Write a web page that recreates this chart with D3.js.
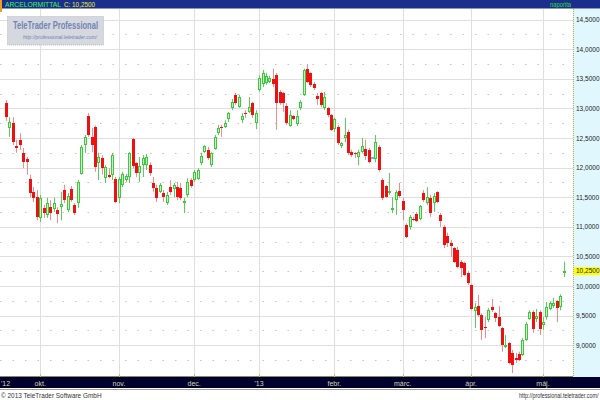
<!DOCTYPE html>
<html><head><meta charset="utf-8">
<script src="https://cdn.jsdelivr.net/npm/d3@7"></script>
<style>html,body{margin:0;padding:0;background:#fff;}svg{display:block;}</style>
</head><body>
<svg id="chart" width="600" height="400"></svg>
<script>
// ---- data (ArcelorMittal daily candles, Sep 2012 - May 2013) ----
const opens = [13.09,12.67,12.75,12.36,12.47,12.25,12.15,11.81,11.59,11.50,11.15,11.32,11.20,11.33,11.30,11.28,11.33,11.62,11.28,11.64,
11.37,11.40,11.89,12.38,12.87,12.52,12.69,12.08,12.16,11.82,11.88,11.88,11.81,11.49,11.71,11.79,11.84,12.48,12.08,11.91,
12.04,12.04,12.04,11.74,11.66,11.59,11.57,11.40,11.67,11.64,11.67,11.66,11.40,11.54,11.79,11.79,11.81,12.08,12.26,12.30,
12.04,12.31,12.58,12.69,12.69,12.82,13.01,13.23,13.02,12.80,12.92,12.94,13.09,12.75,13.31,13.41,13.43,13.45,13.50,13.56,
13.28,13.26,13.04,12.70,12.87,12.74,13.01,13.23,13.67,13.60,13.41,13.21,13.26,13.01,13.01,12.89,12.65,12.69,12.36,12.50,
12.60,12.26,12.25,12.18,12.26,12.31,12.30,12.16,12.15,12.35,11.79,11.69,11.57,11.28,11.45,11.60,11.44,11.03,11.00,11.13,
11.22,11.13,11.57,11.40,11.49,11.40,11.59,11.20,11.00,10.84,10.73,10.64,10.61,10.41,10.39,10.22,10.02,9.58,9.66,9.51,
9.31,9.43,9.65,9.54,9.48,9.29,8.97,9.04,8.87,8.78,8.85,8.83,9.09,9.44,9.56,9.44,9.56,9.34,9.48,9.61,
9.66,9.75,9.65,10.24];
const highs = [13.14,12.85,12.85,12.47,12.58,12.33,12.18,11.88,11.67,11.62,11.54,11.37,11.49,11.45,11.49,11.33,11.59,11.71,11.57,11.69,
11.40,11.79,12.38,12.55,12.92,12.67,12.71,12.25,12.21,12.04,11.99,12.25,11.84,11.84,11.93,11.89,12.26,12.50,12.09,12.18,
12.21,12.23,12.09,11.84,11.71,11.74,11.62,11.59,11.79,11.74,11.76,11.74,11.49,11.82,11.82,11.96,11.99,12.25,12.38,12.35,
12.26,12.55,12.72,12.72,12.80,12.94,13.16,13.26,13.23,12.92,12.97,13.19,13.11,12.97,13.56,13.65,13.60,13.55,13.67,13.60,
13.31,13.28,13.09,12.97,12.89,12.97,13.14,13.67,13.75,13.61,13.45,13.26,13.28,13.28,13.02,12.91,12.84,12.72,12.43,12.84,
12.64,12.30,12.26,12.30,12.50,12.47,12.33,12.18,12.55,12.38,11.82,11.71,11.91,11.50,11.62,11.74,11.49,11.06,11.20,11.17,
11.25,11.37,11.62,11.67,11.54,11.57,11.60,11.23,11.03,10.90,10.78,10.66,10.66,10.44,10.41,10.25,10.03,9.71,9.85,9.54,
9.48,9.63,9.78,9.56,9.66,9.31,9.17,9.05,8.92,8.87,8.89,9.12,9.39,9.59,9.59,9.61,9.59,9.48,9.73,9.73,
9.80,9.76,9.86,10.41];
const lows = [12.79,12.52,12.38,12.25,12.30,11.99,11.88,11.50,11.42,11.11,11.08,11.15,11.15,11.11,11.25,11.06,11.11,11.40,11.25,11.42,
11.20,11.32,11.88,12.25,12.52,12.26,11.93,11.79,11.88,11.74,11.82,11.79,11.40,11.40,11.67,11.76,11.74,11.99,11.84,11.76,
11.84,11.96,11.86,11.59,11.42,11.57,11.42,11.37,11.54,11.50,11.45,11.45,11.23,11.50,11.66,11.76,11.79,12.04,12.25,12.13,
12.01,12.30,12.55,12.52,12.67,12.77,12.97,13.06,13.01,12.75,12.84,12.92,12.84,12.65,13.28,13.36,13.40,13.43,13.36,12.64,
13.06,12.94,12.72,12.69,12.80,12.70,12.97,13.21,13.43,13.36,13.31,13.06,13.02,12.97,12.85,12.62,12.60,12.38,12.33,12.43,
12.21,12.18,12.16,12.04,12.25,12.13,12.07,12.15,12.09,11.93,11.45,11.49,11.54,11.23,11.20,11.49,11.11,10.81,10.95,11.10,
11.08,11.11,11.42,11.37,11.17,11.25,11.40,11.00,10.64,10.66,10.49,10.39,10.30,10.15,10.17,10.02,9.59,9.29,9.48,9.09,
9.12,9.39,9.56,9.39,9.31,8.89,8.95,8.68,8.53,8.70,8.73,8.82,9.07,9.43,9.21,9.39,9.17,9.26,9.43,9.59,
9.63,9.39,9.59,10.15];
const closes = [12.85,12.77,12.43,12.33,12.38,12.09,12.09,11.57,11.49,11.17,11.49,11.23,11.40,11.23,11.40,11.22,11.39,11.45,11.52,11.45,
11.23,11.76,12.35,12.52,12.55,12.38,12.01,12.18,11.99,12.01,11.84,12.21,11.42,11.81,11.89,11.86,12.25,12.03,11.91,12.03,
12.16,12.18,11.91,11.66,11.49,11.71,11.50,11.54,11.59,11.71,11.50,11.49,11.44,11.76,11.69,11.93,11.96,12.20,12.36,12.16,
12.25,12.52,12.67,12.67,12.75,12.92,13.11,13.09,13.19,12.87,12.91,13.02,12.89,12.92,13.51,13.60,13.55,13.51,13.41,13.09,
13.09,13.09,12.75,12.89,12.82,12.87,13.11,13.65,13.45,13.40,13.34,13.16,13.06,13.19,12.89,12.64,12.82,12.42,12.42,12.55,
12.25,12.21,12.23,12.26,12.36,12.20,12.09,12.16,12.43,11.96,11.49,11.50,11.60,11.32,11.59,11.52,11.28,10.83,11.17,11.11,
11.10,11.35,11.45,11.50,11.23,11.52,11.42,11.10,10.69,10.73,10.68,10.41,10.32,10.30,10.19,10.05,9.61,9.65,9.51,9.26,
9.29,9.59,9.59,9.46,9.32,9.00,9.00,8.70,8.67,8.75,8.75,9.09,9.36,9.56,9.27,9.49,9.27,9.39,9.65,9.71,
9.71,9.63,9.83,10.25];
const monthLabels = ["'12","okt.","nov.","dec.","'13","febr.","márc.","ápr.","máj."];
const monthStart  = [0, 10, 33, 55, 74, 96, 116, 136, 157];
const yTickValues = [9.0,9.5,10.0,10.5,11.0,11.5,12.0,12.5,13.0,13.5,14.0,14.5];
const yMinorValues = [8.75,9.25,9.75,10.25,10.75,11.25,11.75,12.25,12.75,13.25,13.75,14.25];
const title = "ARCELORMITTAL";
const lastLabel = "C: 10,2500";

// ---- layout ----
const W = 600, H = 400;
const plot = {l: 0, r: 573, t: 9, b: 377};
const svg = d3.select("#chart");
const fmt = v => d3.format(".4f")(v).replace(".", ",");

const x = d3.scaleLinear().domain([0, opens.length - 1]).range([6, 563.5]);
const y = d3.scaleLinear().domain([10, 14.5]).range([286, 19.6]);

svg.append("rect").attr("width", W).attr("height", H).attr("fill", "#fff");

// plot background
svg.append("rect").attr("x", plot.l).attr("y", plot.t).attr("width", plot.r - plot.l).attr("height", plot.b - plot.t).attr("fill", "#fff");

const grid = svg.append("g");
// minor dotted horizontal gridlines
grid.selectAll("line.minor").data(yMinorValues).join("line")
  .attr("x1", plot.l).attr("x2", plot.r)
  .attr("y1", d => Math.round(y(d)) + 0.5).attr("y2", d => Math.round(y(d)) + 0.5)
  .attr("stroke", "#c4c4c4").attr("stroke-width", 1).attr("stroke-dasharray", "1.5,11");
// major horizontal gridlines
grid.selectAll("line.major").data(yTickValues).join("line")
  .attr("x1", plot.l).attr("x2", plot.r)
  .attr("y1", d => Math.round(y(d)) + 0.5).attr("y2", d => Math.round(y(d)) + 0.5)
  .attr("stroke", "#e2dede").attr("stroke-width", 1);
// vertical month gridlines
grid.selectAll("line.vx").data(monthStart.slice(1)).join("line")
  .attr("x1", d => Math.round(x(d)) + 0.5).attr("x2", d => Math.round(x(d)) + 0.5)
  .attr("y1", plot.t).attr("y2", plot.b)
  .attr("stroke", "#e2dede").attr("stroke-width", 1);

// watermark
const wm = svg.append("g");
wm.append("rect").attr("x", 7.5).attr("y", 16.5).attr("width", 96).attr("height", 28.5)
  .attr("fill", "#d5d8df").attr("stroke", "#b8bcc8").attr("stroke-dasharray", "1,1");
wm.append("text").attr("x", 55.5).attr("y", 29).attr("text-anchor", "middle")
  .attr("font-family", "Liberation Sans, Arial, sans-serif").attr("font-size", 10.5).attr("font-weight", "bold")
  .attr("fill", "#7384b4").attr("textLength", 85).attr("lengthAdjust", "spacingAndGlyphs")
  .text("TeleTrader Professional");
wm.append("text").attr("x", 60).attr("y", 38.5).attr("text-anchor", "middle")
  .attr("font-family", "Liberation Sans, Arial, sans-serif").attr("font-size", 6).attr("font-style", "italic")
  .attr("fill", "#7384b4").attr("textLength", 74).attr("lengthAdjust", "spacingAndGlyphs")
  .text("http://professional.teletrader.com/");

// candles
const data = opens.map((o, i) => ({i, o, h: highs[i], l: lows[i], c: closes[i]}));
const col = d => d.c > d.o ? "up" : (d.c < d.o ? "down" : "flat");
const wickColor = {up: "#5acd5a", down: "#f28c8c", flat: "#40b8e0"};
const g = svg.append("g");
g.selectAll("line.wick").data(data).join("line")
  .attr("x1", d => Math.round(x(d.i)) + 0.5).attr("x2", d => Math.round(x(d.i)) + 0.5)
  .attr("y1", d => y(d.h)).attr("y2", d => y(d.l))
  .attr("stroke", d => wickColor[col(d)]).attr("stroke-width", 1);
// bodies
g.selectAll("rect.body").data(data).join("rect")
  .each(function(d) {
    const k = col(d);
    const cx = Math.round(x(d.i));
    const top = Math.round(y(Math.max(d.o, d.c)));
    const bot = Math.round(y(Math.min(d.o, d.c)));
    const hgt = Math.max(1, bot - top);
    const r = d3.select(this);
    if (k === "up") {
      r.attr("x", cx - 1 + 0.5).attr("y", top + 0.5).attr("width", 2).attr("height", Math.max(1, hgt - 1))
       .attr("fill", "#c6f0c6").attr("stroke", "#3ec83e").attr("stroke-width", 1);
    } else if (k === "down") {
      r.attr("x", cx - 1).attr("y", top).attr("width", 3).attr("height", hgt).attr("fill", "#ee1111");
    } else {
      r.attr("x", cx - 1).attr("y", top - 1).attr("width", 3).attr("height", 2).attr("fill", "#40c8f0");
    }
  });

// right axis panel
svg.append("rect").attr("x", plot.r).attr("y", plot.t).attr("width", W - plot.r).attr("height", plot.b - plot.t)
  .attr("fill", "#e0f8fd");
svg.append("line").attr("x1", plot.r + 0.5).attr("x2", plot.r + 0.5).attr("y1", plot.t).attr("y2", plot.b)
  .attr("stroke", "#b8a848").attr("stroke-dasharray", "1,1");
const yAxis = d3.axisRight(y).tickValues(yTickValues).tickFormat(fmt).tickSize(0).tickPadding(0);
const ya = svg.append("g").attr("transform", `translate(${plot.r + 3},0)`).call(yAxis);
ya.select(".domain").remove();
ya.selectAll("text").attr("font-family", "Liberation Sans, Arial, sans-serif").attr("font-size", 6.5).attr("fill", "#222");
// current value marker
const lastC = closes[closes.length - 1];
svg.append("rect").attr("x", plot.r + 1).attr("y", y(lastC) - 4).attr("width", 25.5).attr("height", 8).attr("fill", "#ffff00");
svg.append("text").attr("x", plot.r + 3).attr("y", y(lastC)).attr("dy", "0.32em")
  .attr("font-family", "Liberation Sans, Arial, sans-serif").attr("font-size", 6.5).attr("fill", "#222")
  .text(fmt(lastC));

// header bar
svg.append("rect").attr("x", 0).attr("y", 0).attr("width", W).attr("height", 8.5).attr("fill", "#1a2f8c");
svg.append("rect").attr("x", 0).attr("y", 0).attr("width", 2).attr("height", 12).attr("fill", "#f0a020");
svg.append("text").attr("x", 5).attr("y", 7.3).attr("font-family", "Liberation Sans, Arial, sans-serif")
  .attr("font-size", 7.5).attr("fill", "#3cff3c").attr("textLength", 56).attr("lengthAdjust", "spacingAndGlyphs").text(title);
svg.append("text").attr("x", 64).attr("y", 7.3).attr("font-family", "Liberation Sans, Arial, sans-serif")
  .attr("font-size", 7.5).attr("fill", "#f0f020").attr("textLength", 31).attr("lengthAdjust", "spacingAndGlyphs").text(lastLabel);
svg.append("text").attr("x", 550).attr("y", 7.3).attr("font-family", "Liberation Sans, Arial, sans-serif")
  .attr("font-size", 7).attr("fill", "#33dd33").attr("textLength", 21).attr("lengthAdjust", "spacingAndGlyphs").text("napońta");

// bottom time axis bar
svg.append("rect").attr("x", 0).attr("y", plot.b).attr("width", W).attr("height", 11).attr("fill", "#00002e");
svg.append("line").attr("x1", 0).attr("x2", plot.r).attr("y1", plot.b - 0.5).attr("y2", plot.b - 0.5).attr("stroke", "#8a8a5a");
svg.selectAll("line.mtick").data(monthStart.slice(1)).join("line")
  .attr("x1", d => Math.round(x(d)) + 0.5).attr("x2", d => Math.round(x(d)) + 0.5)
  .attr("y1", plot.b - 3).attr("y2", plot.b).attr("stroke", "#c8c060");
svg.selectAll("text.mlab").data(monthLabels).join("text")
  .attr("x", (d, i) => i === 0 ? 1 : x(monthStart[i]))
  .attr("y", plot.b + 8.5)
  .attr("text-anchor", (d, i) => i === 0 ? "start" : "middle")
  .attr("font-family", "Liberation Sans, Arial, sans-serif").attr("font-size", 7).attr("fill", "#d6d6a8")
  .text(d => d);
svg.append("line").attr("x1", 0).attr("x2", W).attr("y1", 389.5).attr("y2", 389.5).attr("stroke", "#a0a0a0");

// footer
svg.append("text").attr("transform", "translate(1,397.5) scale(0.92,1)").attr("font-family", "Liberation Sans, Arial, sans-serif")
  .attr("font-size", 7).attr("fill", "#333")
  .text("© 2013 TeleTrader Software GmbH");
svg.append("text").attr("transform", "translate(598.5,397.5) scale(0.77,1)").attr("text-anchor", "end").attr("font-family", "Liberation Sans, Arial, sans-serif")
  .attr("font-size", 7).attr("fill", "#333")
  .text("http://professional.teletrader.com/");
</script>
</body></html>
